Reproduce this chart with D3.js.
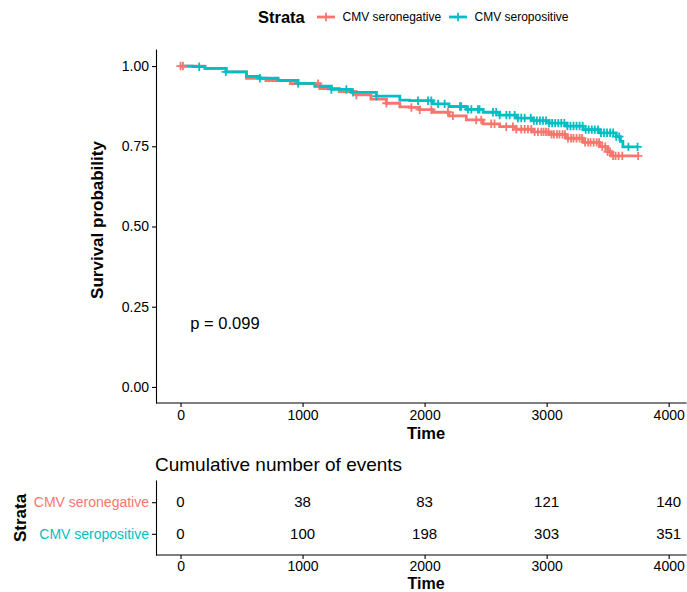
<!DOCTYPE html>
<html>
<head>
<meta charset="utf-8">
<script src="https://cdn.jsdelivr.net/npm/d3@7"></script>
<style>
  html, body { margin: 0; padding: 0; background: #fff; }
  svg { display: block; font-family: "Liberation Sans", Arial, Helvetica, sans-serif; }
</style>
</head>
<body>
<svg id="chart" width="687" height="592"></svg>
<script>
// ---------------- data ----------------
const strata = ["CMV seronegative", "CMV seropositive"];
const strataColors = ["#F8766D", "#00BFC4"];

// Kaplan-Meier: seronegative
const timeNeg = [0, 200, 376, 540, 700, 900, 1141, 1300, 1441, 1560, 1687, 1797, 1878, 1960, 2069, 2200, 2342, 2480, 2615, 2750, 2888, 3020, 3161, 3300, 3434, 3500, 3530, 3750];
const survNeg = [1.0, 0.993, 0.982, 0.962, 0.955, 0.945, 0.930, 0.920, 0.910, 0.897, 0.884, 0.873, 0.871, 0.864, 0.856, 0.845, 0.832, 0.820, 0.811, 0.803, 0.795, 0.787, 0.775, 0.762, 0.749, 0.733, 0.720, 0.720];
const censorNeg = [0, 20, 1127, 1441, 1687, 1892, 1960, 2055, 2191, 2232, 2423, 2464, 2546, 2573, 2669, 2724, 2751, 2792, 2820, 2847, 2874, 2901, 2929, 2956,
  2975, 2995, 3015, 3040, 3060, 3085, 3105, 3130, 3150, 3175, 3200, 3220, 3245, 3270, 3290, 3315, 3340, 3360, 3385, 3410, 3430, 3455, 3480, 3500, 3520, 3545,
  3565, 3590, 3620, 3750];

// Kaplan-Meier: seropositive
const timePos = [0, 100, 200, 371, 540, 650, 800, 963, 1100, 1236, 1400, 1605, 1797, 1878, 2069, 2200, 2342, 2480, 2615, 2750, 2888, 3020, 3161, 3300, 3434, 3570, 3605, 3625, 3745];
const survPos = [1.0, 0.998, 0.993, 0.982, 0.968, 0.962, 0.955, 0.946, 0.937, 0.927, 0.918, 0.906, 0.894, 0.892, 0.882, 0.874, 0.865, 0.856, 0.847, 0.838, 0.830, 0.822, 0.813, 0.802, 0.792, 0.780, 0.765, 0.748, 0.748];
const censorPos = [153, 371, 650, 963, 1236, 1359, 1414, 1605, 1946, 2028, 2055, 2110, 2164, 2290, 2300, 2355, 2383, 2437, 2450, 2560, 2587, 2615, 2670, 2697, 2738, 2765, 2792, 2820,
  2870, 2895, 2920, 2945, 2970, 2995, 3020, 3045, 3070, 3095, 3120, 3145, 3170, 3195, 3220, 3245, 3270, 3295, 3320, 3345, 3370, 3395, 3420, 3445, 3470, 3495, 3520, 3545, 3570, 3595,
  3670, 3745];

// risk table: cumulative number of events
const tableTimes = [0, 1000, 2000, 3000, 4000];
const eventsNeg = [0, 38, 83, 121, 140];
const eventsPos = [0, 100, 198, 303, 351];

const xTicks = [0, 1000, 2000, 3000, 4000];
const yTicks = [0, 0.25, 0.5, 0.75, 1];
const pValueLabel = "p = 0.099";

// ---------------- drawing ----------------
const svg = d3.select("#chart");
const FONT = '"Liberation Sans", Arial, Helvetica, sans-serif';

const x = d3.scaleLinear().domain([-197, 4142]).range([156.5, 686]);
const y = d3.scaleLinear().domain([-0.05, 1.05]).range([403, 50]);

const series = [
  { name: strata[0], color: strataColors[0], t: timeNeg, s: survNeg, c: censorNeg },
  { name: strata[1], color: strataColors[1], t: timePos, s: survPos, c: censorPos }
];

function survAt(times, surv, t) {
  const i = d3.bisectRight(times, t) - 1;
  return surv[Math.max(0, Math.min(i, surv.length - 1))];
}

function styleAxis(g) {
  g.select(".domain").remove();
  g.selectAll(".tick line").attr("stroke", "#000").attr("stroke-width", 1.1);
  g.selectAll(".tick text").attr("fill", "#000").style("font-family", FONT).style("font-size", "14px");
}
function axisLine(x1, y1, x2, y2) {
  svg.append("line").attr("x1", x1).attr("y1", y1).attr("x2", x2).attr("y2", y2)
    .attr("stroke", "#000").attr("stroke-width", 1.1).attr("stroke-linecap", "square");
}

// main y axis
const gy = svg.append("g").attr("transform", "translate(156,0)")
  .call(d3.axisLeft(y).tickValues(yTicks).tickFormat(d3.format(".2f")).tickSizeOuter(0).tickSize(4).tickPadding(3));
styleAxis(gy);

// main x axis
const gx = svg.append("g").attr("transform", "translate(0,403)")
  .call(d3.axisBottom(x).tickValues(xTicks).tickFormat(d3.format("d")).tickSizeOuter(0).tickSize(4).tickPadding(3));
styleAxis(gx);
axisLine(x.range()[0], y.range()[1], x.range()[0], y.range()[0]);
axisLine(x.range()[0], y.range()[0], x.range()[1], y.range()[0]);

// curves
const line = d3.line().x(d => x(d[0])).y(d => y(d[1])).curve(d3.curveStepAfter);
series.forEach(sr => {
  svg.append("path")
    .datum(sr.t.map((t, i) => [t, sr.s[i]]))
    .attr("d", line)
    .attr("fill", "none")
    .attr("stroke", sr.color)
    .attr("stroke-width", 2.8);
});
// censor marks
series.forEach(sr => {
  svg.append("g").selectAll("path")
    .data(sr.c)
    .join("path")
    .attr("transform", t => `translate(${x(t)},${y(survAt(sr.t, sr.s, t))})`)
    .attr("d", "M-4.2,0H4.2M0,-4.2V4.2")
    .attr("stroke", sr.color)
    .attr("stroke-width", 1.8)
    .attr("fill", "none");
});

// p value
svg.append("text")
  .attr("x", x(80)).attr("y", y(0.2))
  .attr("dy", "0.35em")
  .style("font-family", FONT).style("font-size", "16.5px")
  .attr("fill", "#000")
  .text(pValueLabel);

// axis titles
svg.append("text")
  .attr("x", 426).attr("y", 439)
  .attr("text-anchor", "middle")
  .style("font-family", FONT).style("font-size", "16.5px").style("font-weight", "bold")
  .text("Time");
svg.append("text")
  .attr("transform", "translate(103,220) rotate(-90)")
  .attr("text-anchor", "middle")
  .style("font-family", FONT).style("font-size", "17px").style("font-weight", "bold")
  .text("Survival probability");

// legend
const leg = svg.append("g");
leg.append("text").attr("x", 258).attr("y", 17).attr("dy", "0.35em")
  .style("font-family", FONT).style("font-size", "16.5px").style("font-weight", "bold")
  .text("Strata");
const legendX = [317, 449];
series.forEach((sr, i) => {
  const k = leg.append("g").attr("transform", `translate(${legendX[i]},17)`);
  k.append("path").attr("d", "M0,0H18").attr("stroke", sr.color).attr("stroke-width", 2.8);
  k.append("path").attr("d", "M9,-4.2V4.2M4.8,0H13.2").attr("stroke", sr.color).attr("stroke-width", 1.8);
  k.append("text").attr("x", 25.5).attr("y", 0).attr("dy", "0.35em")
    .style("font-family", FONT).style("font-size", "12px").attr("fill", "#000")
    .text(sr.name);
});

// ---------------- table ----------------
svg.append("text")
  .attr("x", 155).attr("y", 471)
  .style("font-family", FONT).style("font-size", "19px").attr("fill", "#000")
  .text("Cumulative number of events");

const yt = d3.scalePoint().domain(strata).range([481, 555]).padding(0.67);

const gty = svg.append("g").attr("transform", "translate(156,0)")
  .call(d3.axisLeft(yt).tickSizeOuter(0).tickSize(4).tickPadding(3));
styleAxis(gty);
gty.selectAll(".tick text").attr("fill", d => strataColors[strata.indexOf(d)]);

const gtx = svg.append("g").attr("transform", "translate(0,555)")
  .call(d3.axisBottom(x).tickValues(xTicks).tickFormat(d3.format("d")).tickSizeOuter(0).tickSize(4).tickPadding(2));
styleAxis(gtx);
axisLine(x.range()[0], yt.range()[0], x.range()[0], yt.range()[1]);
axisLine(x.range()[0], yt.range()[1], x.range()[1], yt.range()[1]);

const tableRows = [eventsNeg, eventsPos];
tableRows.forEach((row, r) => {
  svg.append("g").selectAll("text")
    .data(row)
    .join("text")
    .attr("x", (d, i) => x(tableTimes[i]))
    .attr("y", yt(strata[r]))
    .attr("dy", "0.35em")
    .attr("text-anchor", "middle")
    .style("font-family", FONT).style("font-size", "15px").attr("fill", "#000")
    .text(d => d);
});

svg.append("text")
  .attr("x", 426).attr("y", 589)
  .attr("text-anchor", "middle")
  .style("font-family", FONT).style("font-size", "16px").style("font-weight", "bold")
  .text("Time");
svg.append("text")
  .attr("transform", "translate(26,518) rotate(-90)")
  .attr("text-anchor", "middle")
  .style("font-family", FONT).style("font-size", "17px").style("font-weight", "bold")
  .text("Strata");
</script>
</body>
</html>
